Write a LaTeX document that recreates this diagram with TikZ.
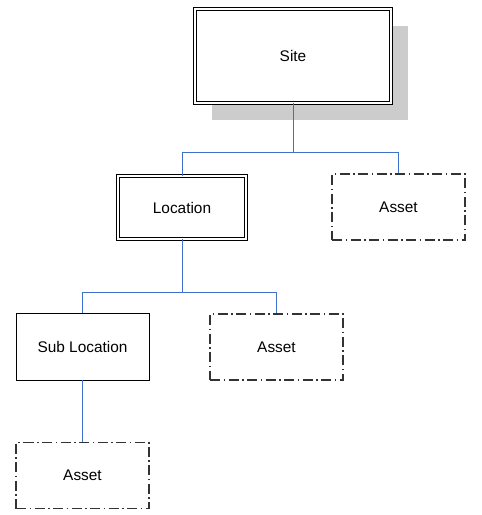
\documentclass[tikz,border=0pt]{standalone}
\usepackage{fontspec}
\setmainfont{Liberation Sans}
\usetikzlibrary{shadows}
\definecolor{linkblue}{RGB}{62,112,204}
\definecolor{shadowgray}{RGB}{204,204,204}
\tikzset{
    %Text size for all boxes
    every node/.style={font=\fontsize{15.4}{18}\selectfont},
    %Box with double frame
    dblbox/.style={
           rectangle,
           draw=black,
           double=white,
           double distance=1.8pt,
           line width=0.7pt,
           fill=white,
           inner sep=0pt},
    %Plain box
    plainbox/.style={
           rectangle,
           draw=black,
           line width=0.8pt,
           fill=white,
           minimum width=133pt,
           minimum height=67pt},
    %Dash dot box for assets
    assetbox/.style={
           rectangle,
           draw=black!80,
           line width=1.3pt,
           dash pattern=on 10pt off 3.5pt on 1.5pt off 3.5pt,
           fill=white,
           minimum width=133pt,
           minimum height=66pt},
    % Define connector style
    link/.style={
           draw=linkblue,
           line width=0.8pt}
}
\begin{document}
\begin{tikzpicture}[x=1pt,y=1pt]
  \useasboundingbox (0,0) rectangle (482,-515);
  \node[dblbox,minimum width=196pt,minimum height=94pt,
        drop shadow={shadow xshift=17pt,shadow yshift=-17pt,fill=shadowgray,opacity=1}]
        (site) at (293,-56) {Site};
  \node[dblbox,minimum width=128pt,minimum height=63pt] (location) at (182,-207.5) {Location};
  \node[assetbox] (asset1) at (398.5,-207) {Asset};
  \node[plainbox] (subloc) at (82.5,-346.5) {Sub Location};
  \node[assetbox] (asset2) at (276.5,-347) {Asset};
  \node[assetbox] (asset3) at (82.5,-475.5) {Asset};
  % bus lines
  \coordinate (bus1) at (292,-152);
  \coordinate (bus2) at (182,-292);
  \draw[link] (site.south) -- (site.south |- bus1) -| (location.north);
  \draw[link] (site.south |- bus1) -| (asset1.north);
  \draw[link] (location.south) -- (location.south |- bus2) -| (subloc.north);
  \draw[link] (location.south |- bus2) -| (asset2.north);
  \draw[link] (subloc.south) -- (asset3.north);
\end{tikzpicture}
\end{document}
